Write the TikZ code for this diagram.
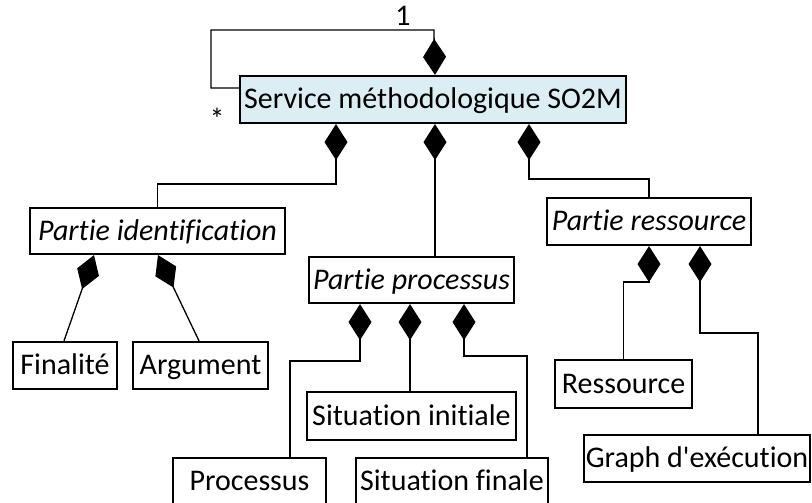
\documentclass[tikz,border=0pt]{standalone}
\usepackage{fontspec}
\setmainfont{Carlito}[Ligatures={NoCommon,TeXOff}]
\usetikzlibrary{arrows.meta}
\definecolor{classfill}{HTML}{DAEEF3}
\tikzset{
  box/.style={draw=black, line width=2.2pt, inner sep=0pt, text height=23.5pt, text depth=5pt,
    font=\fontsize{30}{34}\selectfont},
  abstractbox/.style={box, font=\fontsize{30}{34}\selectfont\itshape},
  comp/.style={line width=1.3pt, -{Diamond[length=36pt,width=23pt]}},
  mult/.style={font=\fontsize{30}{34}\selectfont, inner sep=0pt}
}
\begin{document}
\begin{tikzpicture}[x=1pt,y=1pt]
\clip (0,0) rectangle (812,503);
\fill[white] (0,0) rectangle (812,503);

% classes
\node[box, fill=classfill, minimum width=386pt, minimum height=47pt] (svc) at (433,403.5) {Service méthodologique SO2M};
\node[abstractbox, minimum width=255pt, minimum height=46pt] (pid) at (157.5,272) {Partie identification};
\node[abstractbox, minimum width=205pt, minimum height=46pt] (ppr) at (411.5,223) {Partie processus};
\node[abstractbox, minimum width=204pt, minimum height=47pt] (pre) at (649,281.5) {Partie ressource};
\node[box, minimum width=104pt, minimum height=47pt] (fin) at (65,137.5) {Finalité};
\node[box, minimum width=135pt, minimum height=47pt] (arg) at (200.5,137.5) {Argument};
\node[box, minimum width=153pt, minimum height=46pt] (pro) at (249.5,22) {Processus};
\node[box, minimum width=209pt, minimum height=48pt] (sin) at (411.5,87) {Situation initiale};
\node[box, minimum width=192pt, minimum height=46pt] (sfi) at (452,22) {Situation finale};
\node[box, minimum width=137pt, minimum height=48pt] (res) at (623.5,119) {Ressource};
\node[box, minimum width=226pt, minimum height=47pt] (gra) at (697,44.5) {Graph d'exécution};

% self composition
\draw[comp] ([yshift=11.5pt]svc.west) -- ++(-28,0) |- ++(223,58) -- ([xshift=2pt]svc.north);
\node[mult] (one) at (403,487) {1};
\node[mult] (many) at (217,384) {*};

% compositions of the service
\draw[comp] (pid.north) -- ++(0,23) -| ([xshift=-97pt]svc.south);
\draw[comp] ([xshift=23.5pt]ppr.north) -- ([xshift=2pt]svc.south);
\draw[comp] (pre.north) -- ++(0,18) -| ([xshift=96pt]svc.south);

% identification part
\draw[comp] ([xshift=-1pt]fin.north) -- ([xshift=-63.5pt]pid.south);
\draw[comp] ([xshift=-1.5pt]arg.north) -- ([xshift=0.5pt]pid.south);

% process part
\draw[comp] ([xshift=40.5pt]pro.north) -- ++(0,96) -| ([xshift=-51.5pt]ppr.south);
\draw[comp] ([xshift=-1.5pt]sin.north) -- ([xshift=-1.5pt]ppr.south);
\draw[comp] ([xshift=75pt]sfi.north) -- ++(0,101) -| ([xshift=52.5pt]ppr.south);

% resource part
\draw[comp] (res.north) -- ++(0,77) -| (pre.south);
\draw[comp] ([xshift=61pt]gra.north) -- ++(0,101) -| ([xshift=51pt]pre.south);
\end{tikzpicture}
\end{document}
